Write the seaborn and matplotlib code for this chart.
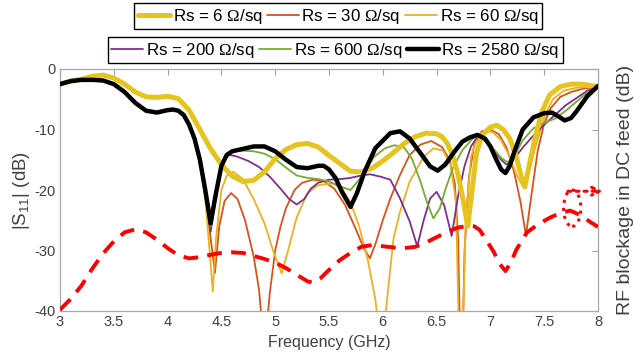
import numpy as np
import pandas as pd
import seaborn as sns
import matplotlib.pyplot as plt
from matplotlib.patches import Ellipse

# ---------------- data ----------------
freq_6 = [3.0, 3.1, 3.2, 3.3, 3.4, 3.5, 3.6, 3.7, 3.8, 3.9, 4.0, 4.1, 4.2, 4.3, 4.4, 4.5, 4.6, 4.7,
          4.8, 4.9, 5.0, 5.1, 5.2, 5.3, 5.4, 5.5, 5.6, 5.7, 5.8, 5.9, 6.0, 6.1, 6.2, 6.3, 6.4, 6.5,
          6.55, 6.6, 6.65, 6.7, 6.75, 6.79, 6.83, 6.87, 6.92, 7.0, 7.06, 7.12, 7.18, 7.24, 7.29,
          7.32, 7.36, 7.42, 7.48, 7.55, 7.65, 7.75, 7.85, 7.92, 8.0]
s11_6 = [-2.5, -2.0, -1.7, -1.2, -1.0, -1.5, -2.5, -3.8, -4.6, -4.7, -4.5, -4.9, -6.8, -10.0, -13.2,
         -15.8, -17.7, -18.6, -18.4, -17.0, -14.8, -13.3, -12.5, -12.3, -12.9, -14.3, -15.6, -16.9,
         -17.0, -16.4, -15.2, -13.8, -12.3, -11.2, -10.6, -10.7, -11.2, -12.3, -14.3, -17.5, -22.0,
         -26.0, -20.0, -14.0, -11.0, -9.6, -9.3, -10.0, -11.5, -14.5, -18.0, -19.5, -16.0, -11.0,
         -7.0, -4.3, -2.9, -2.5, -2.5, -2.7, -3.0]

freq_30 = [3.0, 3.1, 3.2, 3.3, 3.4, 3.5, 3.6, 3.7, 3.8, 3.9, 4.0, 4.05, 4.1, 4.15, 4.2, 4.25, 4.3,
           4.35, 4.4, 4.44, 4.48, 4.53, 4.59, 4.65, 4.72, 4.8, 4.85, 4.9, 4.95, 5.0, 5.05, 5.1, 5.18,
           5.25, 5.35, 5.45, 5.55, 5.65, 5.75, 5.82, 5.88, 5.93, 6.0, 6.07, 6.16, 6.25, 6.35, 6.45,
           6.55, 6.62, 6.67, 6.7, 6.72, 6.74, 6.76, 6.8, 6.85, 6.92, 7.0, 7.08, 7.15, 7.22, 7.28,
           7.33, 7.38, 7.44, 7.5, 7.56, 7.65, 7.75, 7.85, 8.0]
s11_30 = [-2.5, -2.0, -1.8, -1.8, -1.9, -2.5, -3.7, -5.5, -6.8, -7.1, -6.7, -6.6, -6.8, -7.5, -9.2,
          -11.8, -15.5, -21.0, -28.0, -33.7, -26.0, -21.8, -20.5, -21.5, -25.0, -31.0, -36.5, -47.0,
          -37.0, -30.0, -26.0, -23.0, -20.0, -18.8, -18.3, -18.5, -19.8, -22.5, -26.5, -29.5, -31.3,
          -29.0, -25.0, -21.4, -17.5, -14.2, -12.5, -11.9, -12.9, -15.0, -19.0, -28.0, -46.0, -46.0,
          -30.0, -18.0, -12.5, -10.3, -10.0, -10.8, -13.0, -17.0, -22.0, -27.5, -21.0, -13.5, -9.0,
          -6.5, -4.6, -3.8, -3.3, -2.9]

freq_60 = [3.0, 3.1, 3.2, 3.3, 3.4, 3.5, 3.6, 3.7, 3.8, 3.9, 4.0, 4.05, 4.1, 4.15, 4.2, 4.25, 4.3,
           4.35, 4.39, 4.42, 4.45, 4.5, 4.55, 4.61, 4.7, 4.8, 4.9, 4.98, 5.06, 5.12, 5.2, 5.3, 5.4,
           5.54, 5.62, 5.7, 5.78, 5.86, 5.93, 5.99, 6.04, 6.1, 6.16, 6.25, 6.38, 6.47, 6.56, 6.63,
           6.68, 6.71, 6.74, 6.77, 6.82, 6.88, 6.95, 7.02, 7.1, 7.18, 7.25, 7.3, 7.35, 7.42, 7.5,
           7.58, 7.68, 7.8, 8.0]
s11_60 = [-2.5, -2.0, -1.8, -1.8, -1.9, -2.5, -3.7, -5.5, -6.8, -7.1, -6.7, -6.6, -6.8, -7.5, -9.2,
          -11.8, -15.5, -21.5, -30.0, -36.8, -28.0, -20.0, -17.6, -17.0, -18.2, -21.5, -25.5, -30.0,
          -33.8, -30.0, -24.5, -20.5, -19.2, -18.9, -19.8, -22.0, -26.0, -31.5, -38.0, -47.0, -38.0,
          -28.0, -23.6, -18.6, -14.5, -13.1, -13.5, -15.9, -22.0, -46.0, -46.0, -25.0, -14.5, -11.2,
          -10.3, -10.4, -11.8, -14.5, -17.8, -19.3, -17.5, -12.8, -8.0, -5.0, -3.6, -3.1, -2.9]

freq_200 = [3.0, 3.1, 3.2, 3.3, 3.4, 3.5, 3.6, 3.7, 3.8, 3.9, 4.0, 4.05, 4.1, 4.15, 4.2, 4.25, 4.3,
            4.35, 4.4, 4.44, 4.49, 4.54, 4.58, 4.65, 4.75, 4.85, 4.95, 5.05, 5.13, 5.2, 5.27, 5.33,
            5.4, 5.5, 5.6, 5.7, 5.8, 5.88, 5.98, 6.07, 6.16, 6.25, 6.32, 6.38, 6.44, 6.5, 6.57, 6.64,
            6.7, 6.76, 6.82, 6.88, 6.95, 7.02, 7.1, 7.15, 7.2, 7.3, 7.4, 7.5, 7.6, 7.7, 7.8, 7.9, 8.0]
s11_200 = [-2.5, -2.0, -1.8, -1.8, -1.9, -2.5, -3.7, -5.5, -6.8, -7.1, -6.7, -6.6, -6.8, -7.5, -9.2,
           -11.6, -15.3, -20.5, -26.9, -22.0, -16.5, -14.6, -14.2, -14.5, -15.2, -16.2, -17.8, -19.8,
           -21.5, -22.4, -21.5, -19.8, -18.8, -18.3, -18.2, -18.0, -17.6, -17.4, -17.8, -18.3, -21.4,
           -25.2, -29.3, -25.0, -21.4, -20.3, -22.5, -27.6, -21.0, -16.0, -12.8, -11.2, -11.8, -13.2,
           -15.0, -15.8, -15.3, -13.0, -11.0, -9.2, -7.6, -6.0, -4.8, -3.6, -2.9]

freq_600 = [3.0, 3.1, 3.2, 3.3, 3.4, 3.5, 3.6, 3.7, 3.8, 3.9, 4.0, 4.05, 4.1, 4.15, 4.2, 4.25, 4.3,
            4.35, 4.4, 4.44, 4.49, 4.55, 4.62, 4.7, 4.8, 4.9, 5.0, 5.1, 5.2, 5.3, 5.4, 5.5, 5.6, 5.7,
            5.77, 5.83, 5.92, 6.02, 6.11, 6.2, 6.27, 6.35, 6.41, 6.47, 6.53, 6.58, 6.65, 6.74, 6.84,
            6.9, 6.96, 7.02, 7.1, 7.16, 7.22, 7.3, 7.4, 7.5, 7.6, 7.7, 7.8, 7.9, 8.0]
s11_600 = [-2.5, -2.0, -1.8, -1.8, -1.9, -2.5, -3.7, -5.5, -6.8, -7.1, -6.7, -6.6, -6.8, -7.5, -9.2,
           -11.6, -15.2, -20.3, -26.0, -21.0, -16.0, -14.0, -13.6, -13.5, -13.6, -14.0, -14.9, -16.3,
           -17.6, -18.0, -18.2, -18.6, -19.4, -20.0, -18.5, -17.0, -14.5, -13.1, -12.6, -13.0, -14.8,
           -18.6, -22.0, -24.7, -23.0, -20.0, -16.4, -13.4, -11.4, -11.2, -11.8, -13.0, -14.7, -15.4,
           -14.5, -11.8, -9.8, -8.9, -8.2, -6.9, -5.4, -3.9, -2.9]

freq_2580 = [3.0, 3.1, 3.2, 3.3, 3.4, 3.5, 3.6, 3.7, 3.8, 3.9, 4.0, 4.05, 4.1, 4.15, 4.2, 4.25, 4.3,
             4.35, 4.4, 4.45, 4.5, 4.55, 4.6, 4.7, 4.8, 4.9, 5.0, 5.1, 5.2, 5.3, 5.4, 5.45, 5.5, 5.56,
             5.62, 5.7, 5.76, 5.83, 5.93, 6.07, 6.16, 6.25, 6.35, 6.44, 6.51, 6.58, 6.66, 6.74, 6.81,
             6.88, 6.95, 7.0, 7.05, 7.1, 7.14, 7.18, 7.22, 7.3, 7.4, 7.5, 7.57, 7.63, 7.69, 7.75, 7.8,
             7.9, 8.0]
s11_2580 = [-2.5, -2.0, -1.8, -1.8, -1.9, -2.5, -3.8, -5.6, -6.9, -7.2, -6.8, -6.7, -6.9, -7.6, -9.2,
            -11.5, -15.0, -20.0, -25.5, -20.5, -16.0, -14.2, -13.6, -13.2, -12.8, -12.8, -13.6, -15.0,
            -16.2, -16.4, -16.0, -16.0, -16.6, -18.0, -20.3, -22.8, -20.5, -17.0, -13.1, -10.6, -10.3,
            -11.5, -13.9, -16.1, -16.8, -15.8, -13.8, -12.0, -11.3, -10.9, -11.5, -12.8, -14.8, -16.6,
            -17.2, -16.0, -13.8, -10.0, -8.0, -7.3, -7.2, -7.8, -8.5, -8.1, -7.0, -4.5, -2.8]

freq_rf = [3.0, 3.1, 3.2, 3.3, 3.4, 3.5, 3.6, 3.7, 3.8, 3.9, 4.0, 4.1, 4.2, 4.3, 4.4, 4.5, 4.6, 4.7,
           4.8, 4.9, 5.0, 5.1, 5.2, 5.3, 5.35, 5.42, 5.5, 5.6, 5.7, 5.8, 5.9, 6.0, 6.1, 6.2, 6.3, 6.4,
           6.5, 6.6, 6.7, 6.8, 6.85, 6.9, 6.97, 7.03, 7.09, 7.14, 7.19, 7.24, 7.34, 7.45, 7.55, 7.65,
           7.74, 7.83, 7.92, 8.0]
rf_block = [-39.8, -38.0, -35.8, -33.0, -30.5, -28.5, -27.0, -26.5, -27.0, -28.2, -29.6, -30.8,
            -31.3, -31.1, -30.7, -30.4, -30.3, -30.4, -30.9, -31.4, -32.0, -32.9, -34.0, -35.1,
            -35.3, -34.6, -33.2, -31.6, -30.4, -29.4, -29.1, -29.3, -29.5, -29.6, -29.4, -28.7,
            -27.8, -26.9, -26.2, -25.9, -26.0, -26.6, -28.5, -30.2, -32.3, -33.4, -32.0, -29.9,
            -27.0, -25.6, -24.6, -23.8, -23.4, -24.1, -25.2, -26.1]

labels = ['Rs = 6 $\\mathrm{\\Omega}$/sq', 'Rs = 30 $\\mathrm{\\Omega}$/sq',
          'Rs = 60 $\\mathrm{\\Omega}$/sq', 'Rs = 200 $\\mathrm{\\Omega}$/sq',
          'Rs = 600 $\\mathrm{\\Omega}$/sq', 'Rs = 2580 $\\mathrm{\\Omega}$/sq']
x_ticks = [3, 3.5, 4, 4.5, 5, 5.5, 6, 6.5, 7, 7.5, 8]
x_ticklabels = ['3', '3.5', '4', '4.5', '5', '5.5', '6', '6.5', '7', '7.5', '8']
y_ticks = [-40, -30, -20, -10, 0]

# ---------------- style ----------------
sns.set_theme(style='white')
plt.rcParams['font.family'] = ['Liberation Sans', 'DejaVu Sans']
plt.rcParams['mathtext.fontset'] = 'custom'
plt.rcParams['mathtext.rm'] = 'Liberation Serif'
plt.rcParams['mathtext.sf'] = 'Liberation Sans'
plt.rcParams['axes.unicode_minus'] = False

fig = plt.figure(figsize=(6.35, 3.58), dpi=100)
ax = fig.add_axes([60 / 635, 1 - 311 / 358, 538 / 635, 242 / 358])

series = [
    (freq_30, s11_30, '#D95319', 1.3, labels[1], 3),
    (freq_60, s11_60, '#EDB120', 1.3, labels[2], 3),
    (freq_200, s11_200, '#7E2F8E', 1.3, labels[3], 3),
    (freq_600, s11_600, '#77AC30', 1.3, labels[4], 3),
    (freq_6, s11_6, '#E6C41E', 3.6, labels[0], 4),
    (freq_2580, s11_2580, 'black', 3.2, labels[5], 5),
]
handles = {}
for fr, vals, col, lw, lab, z in series:
    df = pd.DataFrame({'f': fr, 'v': vals})
    sns.lineplot(data=df, x='f', y='v', ax=ax, color=col, lw=lw, label=lab,
                 estimator=None, sort=False, zorder=z)
    handles[lab] = ax.lines[-1]

df_rf = pd.DataFrame({'f': freq_rf, 'v': rf_block})
sns.lineplot(data=df_rf, x='f', y='v', ax=ax, color='#FF0000', lw=2.8,
             estimator=None, sort=False, zorder=6)
ax.lines[-1].set_dashes([3.8, 2.4])

if ax.get_legend() is not None:
    ax.get_legend().remove()

# dotted annotation
ax.add_patch(Ellipse((7.76, -23.0), 0.16, 6.0, fill=False, ec='#FF0000', ls=':', lw=2.2,
                     zorder=7, clip_on=False))
ax.annotate('', xy=(8.045, -20.2), xytext=(7.72, -20.2),
            arrowprops=dict(arrowstyle='->', color='#FF0000', ls=':', lw=2.2,
                            shrinkA=0, shrinkB=0, mutation_scale=14),
            annotation_clip=False, zorder=7)

ax.set_xlim(3, 8)
ax.set_ylim(-40, 0)
ax.set_xticks(x_ticks)
ax.set_xticklabels(x_ticklabels)
ax.set_yticks(y_ticks)
ax.set_yticklabels([str(t) for t in y_ticks])
ax.tick_params(direction='in', top=True, right=True, length=4, width=0.8,
               color='#a0a0a0', labelcolor='#404040', labelsize=10.5, pad=3)
for sp in ax.spines.values():
    sp.set_color('#a8a8a8')
    sp.set_linewidth(0.9)

ax.set_xlabel('Frequency (GHz)', fontsize=11.5, color='#404040', labelpad=4)
ax.set_ylabel('|S$_{\\mathsf{11}}$| (dB)', fontsize=13.5, color='#404040')
ax.yaxis.set_label_coords(-0.052, 0.5)
fig.text(625 / 635, 1 - 190 / 358, 'RF blockage in DC feed (dB)', rotation=90,
         ha='center', va='center', fontsize=14, color='#404040')

leg_kw = dict(loc='center', frameon=True, fancybox=False, fontsize=12.2, handlelength=1.9,
              handletextpad=0.15, columnspacing=0.25, borderpad=0.2, borderaxespad=0,
              edgecolor='black', framealpha=1)
leg1 = fig.legend([handles[l] for l in labels[:3]], labels[:3], ncol=3,
                  bbox_to_anchor=(0.533, 1 - 16 / 358), **leg_kw)
leg2 = fig.legend([handles[l] for l in labels[3:]], labels[3:], ncol=3,
                  bbox_to_anchor=(0.528, 1 - 50 / 358), **leg_kw)
for lg in (leg1, leg2):
    lg.get_frame().set_linewidth(1.0)
    for t in lg.get_texts():
        t.set_color('black')

fig.savefig('out.png', dpi=100)
